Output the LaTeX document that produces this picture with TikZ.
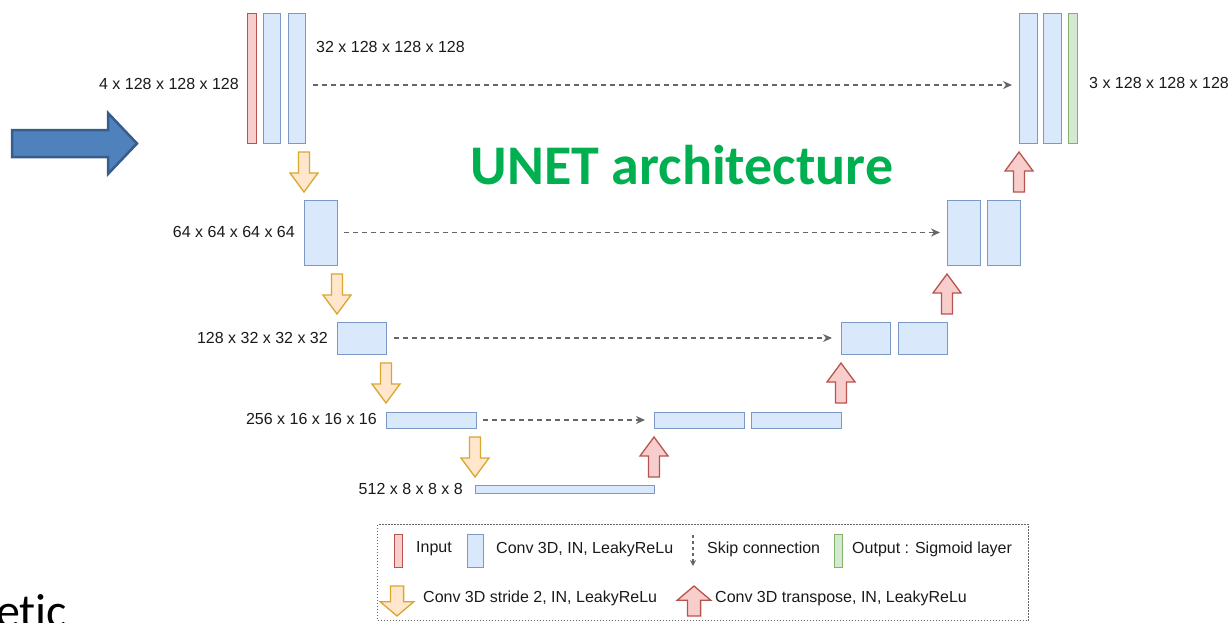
\documentclass[tikz,border=0pt]{standalone}
\usepackage{fontspec}
\setmainfont{Liberation Sans}
\newfontfamily\calibrifont[Ligatures=NoCommon]{Carlito}
\usetikzlibrary{arrows.meta}

\definecolor{convfill}{HTML}{DAE8FC}
\definecolor{convline}{HTML}{7C98C4}
\definecolor{inpfill}{HTML}{F8CECC}
\definecolor{inpline}{HTML}{B85450}
\definecolor{outpfill}{HTML}{D5E8D4}
\definecolor{outpline}{HTML}{82B366}
\definecolor{downfill}{HTML}{FFE6CC}
\definecolor{downline}{HTML}{D9A62E}
\definecolor{upfill}{HTML}{F8CECC}
\definecolor{upline}{HTML}{B85450}
\definecolor{skipgray}{HTML}{666666}
\definecolor{titlegreen}{HTML}{00B050}
\definecolor{bigfill}{HTML}{4F81BD}
\definecolor{bigline}{HTML}{385D8A}
\definecolor{dimtext}{HTML}{1A1A1A}

\tikzset{
  layer/.style={draw=convline, fill=convfill, line width=0.9pt, inner sep=0pt, outer sep=0pt, anchor=north west},
  inlayer/.style={layer, draw=inpline, fill=inpfill},
  outlayer/.style={layer, draw=outpline, fill=outpfill},
  dims/.style={font=\fontsize{16}{19}\selectfont, text=dimtext, inner sep=0pt},
  legtext/.style={dims, anchor=west},
  skip/.style={draw=skipgray, line width=1.4pt, dash pattern=on 5pt off 4pt,
    -{Stealth[length=9pt,width=8pt]}},
  legendbox/.style={draw=skipgray, line width=1pt, dash pattern=on 1.5pt off 1.5pt,
    inner sep=0pt, anchor=north west},
  pics/poolarrow/.style={code={
    \path[draw=downline, fill=downfill, line width=1.3pt, line join=miter]
      (-5.5,0) -- (5.5,0) -- (5.5,21) -- (14,21) -- (0,40) -- (-14,21) -- (-5.5,21) -- cycle;}},
  pics/uparrow/.style={code={
    \path[draw=upline, fill=upfill, line width=1.3pt, line join=miter]
      (0,0) -- (14,19) -- (5.5,19) -- (5.5,40) -- (-5.5,40) -- (-5.5,19) -- (-14,19) -- cycle;}},
}

\begin{document}
\begin{tikzpicture}[x=1pt, y=-1pt]
\useasboundingbox (0,0) rectangle (1229,622);
\clip (0,0) rectangle (1229,622);

% big pointer arrow on the left
\path[draw=bigline, fill=bigfill, line width=2.5pt, line join=miter]
  (12,130) -- (108,130) -- (108,113) -- (137,143.5) -- (108,174) -- (108,157) -- (12,157) -- cycle;

% title
\node[anchor=base, inner sep=0pt, text=titlegreen,
      font=\calibrifont\bfseries\fontsize{56}{60}\selectfont] (title) at (682,184) {UNET architecture};

% ---------------- encoder ----------------
\node[inlayer, minimum width=9,  minimum height=130] (inp) at (247,13) {};
\node[layer,   minimum width=17, minimum height=130] (e1a) at (263,13) {};
\node[layer,   minimum width=17, minimum height=130] (e1b) at (288,13) {};
\node[dims, anchor=east] (l1) at (239,84) {4 x 128 x 128 x 128};
\node[dims, anchor=west] (l1b) at (316,47) {32 x 128 x 128 x 128};

\node[layer, minimum width=33, minimum height=65] (e2) at (304,200) {};
\node[dims, anchor=east] (l2) at (295,232) {64 x 64 x 64 x 64};

\node[layer, minimum width=49, minimum height=32] (e3) at (337,322) {};
\node[dims, anchor=east] (l3) at (328,338) {128 x 32 x 32 x 32};

\node[layer, minimum width=90, minimum height=16] (e4) at (386,412) {};
\node[dims, anchor=east] (l4) at (377,419) {256 x 16 x 16 x 16};

\node[layer, minimum width=179, minimum height=8] (bott) at (475,485) {};
\node[dims, anchor=east] (l5) at (463,489) {512 x 8 x 8 x 8};

% ---------------- decoder ----------------
\node[layer, minimum width=90, minimum height=16] (d4a) at (654,412) {};
\node[layer, minimum width=90, minimum height=16] (d4b) at (751,412) {};

\node[layer, minimum width=49, minimum height=32] (d3a) at (841,322) {};
\node[layer, minimum width=49, minimum height=32] (d3b) at (898,322) {};

\node[layer, minimum width=33, minimum height=65] (d2a) at (947,200) {};
\node[layer, minimum width=33, minimum height=65] (d2b) at (987,200) {};

\node[layer,    minimum width=18, minimum height=130] (d1a) at (1019,13) {};
\node[layer,    minimum width=18, minimum height=130] (d1b) at (1043,13) {};
\node[outlayer, minimum width=9,  minimum height=130] (outp) at (1068,13) {};
\node[dims, anchor=west] (lout) at (1089,83) {3 x 128 x 128 x 128};

% down-sampling and up-sampling arrows
\pic at (e2.north west |- 0,152)  {poolarrow};
\pic at (e3.north west |- 0,274)  {poolarrow};
\pic at (e4.north west |- 0,363)  {poolarrow};
\pic at (bott.north west |- 0,437) {poolarrow};
\pic at (d4a.north west |- 0,437) {uparrow};
\pic at (d3a.north west |- 0,363) {uparrow};
\pic at (d2a.north west |- 0,274) {uparrow};
\pic at (d1a.north west |- 0,152) {uparrow};

% skip connections
\draw[skip] ([xshift=8pt, yshift=-7pt]e1b.east) -- ([xshift=-7pt, yshift=-7pt]d1a.west);
\draw[skip] ([xshift=7pt]e2.east) -- ([xshift=-7pt]d2a.west);
\draw[skip] ([xshift=8pt]e3.east) -- ([xshift=-9pt]d3a.west);
\draw[skip] ([xshift=7pt]e4.east) -- ([xshift=-9pt]d4a.west);

% ---------------- legend ----------------
\node[legendbox, minimum width=651, minimum height=96] (legend) at (377,524) {};

\node[inlayer, minimum width=8, minimum height=33] (kin) at (394,534) {};
\node[legtext] (tin) at (416,549) {Input};
\node[layer, minimum width=16, minimum height=33] (kconv) at (467,534) {};
\node[legtext] (tconv) at (496,549) {Conv 3D, IN, LeakyReLu};
\coordinate (kskipa) at (693,535);
\coordinate (kskipb) at (693,566);
\draw[draw=skipgray, line width=1.2pt, dash pattern=on 3pt off 3pt,
      -{Stealth[length=6pt,width=6pt]}] (kskipa) -- (kskipb);
\node[legtext] (tskip) at (707,549) {Skip connection};
\node[outlayer, minimum width=8, minimum height=33] (kout) at (834,534) {};
\node[legtext] (tout) at (852,549) {Output : Sigmoid layer};

\pic[xscale=1.2, yscale=0.75] at (397,586) {poolarrow};
\node[legtext] (tdown) at (423,598) {Conv 3D stride 2, IN, LeakyReLu};
\pic[xscale=1.2, yscale=0.75] at (694,586) {uparrow};
\node[legtext] (tup) at (715,598) {Conv 3D transpose, IN, LeakyReLu};

% slide text running off the lower left corner
\node[anchor=base west, inner sep=0pt, font=\calibrifont\fontsize{48}{56}\selectfont] (etic) at (-4,627) {etic};
\end{tikzpicture}
\end{document}
